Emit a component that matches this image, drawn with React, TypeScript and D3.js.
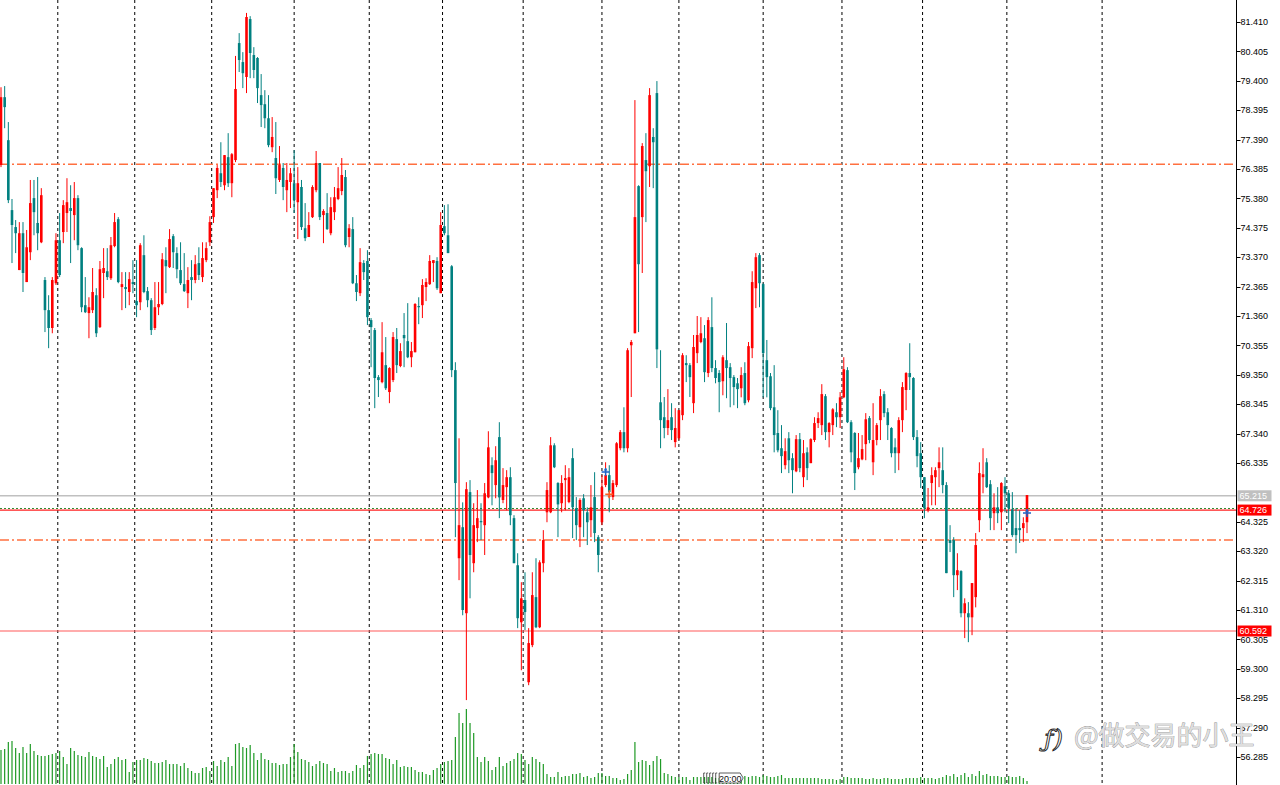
import React from 'react';
import * as d3 from 'd3';

// ---- data ----
// [open, high, low, close]
const candles: [number, number, number, number][] = [
  [76.52,79.18,76.45,78.84],[78.84,79.22,77.78,78.50],[77.37,77.99,75.22,75.32],[74.98,75.36,73.17,74.47],[74.40,74.64,73.51,74.19],
  [72.93,74.57,72.93,74.19],[74.19,74.57,72.18,72.83],[72.52,74.30,72.52,73.71],[73.54,76.01,73.27,75.22],[75.39,76.01,74.12,74.91],
  [74.54,76.11,73.61,74.19],[73.88,75.73,73.85,75.49],[72.59,72.69,70.81,71.56],[71.56,72.07,70.26,70.95],[70.95,72.69,70.77,72.59],
  [72.48,74.19,72.42,73.95],[73.95,74.88,72.69,72.76],[74.23,75.32,73.85,75.15],[74.88,76.07,74.23,75.25],[75.05,75.83,73.17,74.95],
  [74.81,75.94,73.95,75.39],[75.39,75.49,73.61,73.78],[73.68,73.71,71.49,71.66],[71.73,72.69,71.46,71.49],[71.46,72.00,70.60,71.66],
  [71.56,73.00,71.46,72.18],[72.07,72.31,70.64,70.77],[70.98,73.24,70.95,72.96],[72.83,73.68,71.97,73.00],[72.89,73.68,72.59,72.69],
  [72.65,74.06,72.59,73.78],[73.75,74.88,73.71,74.57],[74.67,74.74,72.48,72.52],[72.35,72.86,71.56,72.45],[72.35,72.86,71.63,72.28],
  [72.18,72.86,71.73,72.62],[72.52,73.27,72.14,72.45],[71.87,73.27,71.32,71.73],[71.83,73.85,71.56,73.78],[73.44,74.12,72.14,72.18],
  [72.21,72.35,71.66,71.90],[71.90,71.97,70.71,70.88],[70.95,72.52,70.88,71.66],[71.66,72.52,71.39,71.77],[71.77,73.51,71.73,73.30],
  [73.27,73.71,72.14,73.06],[73.03,74.33,73.00,73.99],[74.09,74.16,73.00,73.54],[73.51,73.71,72.65,72.96],[72.93,73.88,72.42,72.48],
  [72.45,73.51,72.18,72.21],[72.14,73.03,71.63,72.59],[72.69,73.27,71.90,72.59],[72.59,73.44,72.48,73.13],[73.17,73.71,72.59,72.76],
  [72.69,73.88,72.52,73.34],[73.27,73.88,73.20,73.68],[73.88,74.77,73.75,74.57],[74.74,75.73,74.54,75.73],[75.66,76.52,75.39,76.42],
  [76.24,77.30,75.77,75.94],[75.83,76.86,75.66,76.86],[76.79,77.61,75.77,75.90],[75.90,76.93,75.42,76.89],[76.69,80.25,76.62,79.12],
  [80.69,81.03,79.70,80.11],[80.04,80.38,79.15,79.66],[79.53,81.72,78.98,81.58],[81.51,81.61,79.49,80.35],[80.28,80.55,79.49,79.77],
  [80.18,80.21,78.64,79.15],[78.91,79.63,77.82,78.57],[78.60,79.08,77.78,78.12],[78.12,78.91,77.13,77.20],[77.13,78.16,76.96,77.48],
  [76.76,77.99,75.53,76.07],[76.01,77.17,75.94,76.52],[76.42,76.59,75.32,75.77],[75.66,76.59,74.91,76.01],[75.94,76.42,75.05,76.24],
  [75.90,77.03,74.88,75.32],[75.25,76.45,73.99,75.90],[75.77,76.01,74.30,74.40],[74.36,75.22,73.92,74.02],[74.06,74.91,74.06,74.47],
  [74.74,75.83,74.71,75.77],[75.66,77.00,75.59,76.59],[76.59,76.59,74.64,74.74],[74.81,75.01,73.85,74.95],[74.88,75.56,74.30,74.33],
  [74.19,75.42,74.12,75.08],[74.91,75.77,74.64,75.42],[75.36,76.45,75.32,75.73],[75.63,76.76,75.49,76.18],[76.11,76.35,73.71,73.78],
  [74.06,74.50,73.71,74.36],[74.33,74.74,72.45,72.48],[72.48,72.76,71.87,72.18],[72.14,73.68,72.04,73.20],[73.17,73.27,72.59,72.86],
  [73.24,73.61,71.05,71.32],[71.22,71.29,69.61,70.98],[70.88,70.95,68.21,69.24],[69.27,69.34,68.59,69.17],[69.10,71.15,69.06,70.12],
  [69.68,70.64,68.83,68.89],[68.76,69.61,68.38,69.58],[69.17,70.81,69.10,70.64],[70.57,70.95,69.41,69.68],[69.65,70.43,69.61,70.16],
  [70.71,71.46,69.61,70.60],[70.50,71.80,69.92,69.95],[69.95,70.47,69.61,70.16],[70.12,71.80,70.12,71.77],[71.70,72.00,71.08,71.66],
  [71.73,72.62,71.29,72.42],[72.35,72.65,71.87,72.52],[72.45,73.44,72.42,73.24],[73.17,73.27,72.52,73.27],[73.24,73.37,72.25,72.31],
  [72.14,74.91,72.14,74.47],[74.43,75.15,74.12,74.19],[74.12,75.18,73.51,73.51],[73.06,73.10,69.27,69.51],[69.51,69.78,63.80,65.65],
  [63.08,67.18,62.33,64.21],[64.14,64.99,61.13,61.31],[61.20,65.68,58.23,65.44],[65.34,65.75,61.71,63.19],[62.91,64.96,62.60,64.21],
  [64.11,65.41,63.63,64.45],[64.35,64.96,63.70,64.31],[64.21,65.65,63.19,65.30],[65.16,67.42,65.13,66.87],[66.26,66.53,64.89,65.99],
  [65.58,66.91,65.13,66.43],[67.22,67.73,64.45,65.16],[65.07,66.16,64.96,65.58],[65.51,66.09,64.72,65.85],[65.85,66.19,64.21,64.55],
  [64.45,64.55,62.91,62.91],[62.84,63.25,60.69,61.03],[60.89,62.26,59.25,61.71],[61.65,62.60,60.62,61.24],[58.84,60.69,58.74,60.18],
  [60.11,62.60,60.04,61.82],[61.75,63.08,60.69,60.72],[60.72,63.01,60.69,62.94],[62.91,64.04,62.60,63.70],[64.65,65.68,64.31,65.41],
  [64.65,67.22,64.62,66.94],[66.94,67.01,66.16,66.19],[65.65,65.68,63.80,64.92],[64.96,65.92,64.65,65.65],[65.75,66.26,64.72,65.82],
  [65.00,66.16,64.96,65.85],[66.50,66.84,63.77,64.82],[64.79,65.17,63.70,64.21],[64.14,65.13,63.46,65.07],[65.13,65.27,63.80,64.72],
  [64.65,64.82,63.53,64.31],[64.38,65.58,63.80,64.82],[65.17,66.02,63.63,63.94],[63.80,63.87,62.60,63.19],[64.31,65.92,64.21,65.51],
  [65.58,66.36,65.51,65.92],[65.92,66.26,64.65,65.34],[65.17,65.75,65.07,65.65],[65.58,67.05,65.51,67.01],[66.84,67.46,66.77,67.39],
  [67.39,68.24,66.70,66.84],[66.84,70.26,66.70,70.19],[70.36,70.54,68.59,70.47],[70.77,78.74,70.77,74.74],[75.80,75.83,70.81,73.13],
  [74.74,77.27,72.83,77.17],[76.69,77.61,74.57,76.31],[76.48,79.15,75.77,78.91],[77.48,77.78,75.73,77.30],[78.98,79.39,69.58,70.22],
  [68.41,70.19,66.84,67.80],[67.90,68.59,67.18,67.53],[67.53,68.86,67.29,67.80],[67.90,68.38,67.12,67.46],[67.05,68.21,66.87,67.53],
  [67.18,68.14,67.12,68.14],[67.97,70.09,67.80,70.02],[69.75,70.02,69.10,69.68],[69.68,69.75,68.59,69.27],[68.38,70.71,68.04,70.30],
  [70.09,71.36,69.75,70.71],[70.47,71.32,70.43,70.77],[70.60,71.05,69.10,69.44],[69.41,71.32,69.27,71.22],[70.98,72.00,69.44,69.58],
  [69.58,69.85,69.06,69.24],[69.41,69.51,68.07,69.10],[69.13,70.02,68.65,69.95],[69.85,71.12,68.55,69.58],[69.61,69.75,68.24,69.24],
  [69.27,69.34,68.31,68.93],[69.06,69.24,68.21,68.86],[68.89,69.61,68.58,69.34],[69.41,69.78,68.31,68.38],[68.48,70.47,68.41,70.33],
  [70.26,72.89,69.92,72.52],[72.31,73.51,71.63,73.37],[73.44,73.51,71.66,72.48],[72.45,72.48,68.58,70.09],[69.85,70.54,68.58,69.27],
  [69.30,69.41,68.14,68.21],[68.24,69.68,66.70,67.29],[67.36,68.14,66.70,66.77],[66.84,67.63,65.99,66.57],[66.26,67.18,66.12,66.74],
  [67.18,67.39,65.99,66.43],[66.50,66.67,65.30,66.09],[66.05,67.29,66.02,67.15],[67.15,67.36,66.02,66.16],[65.85,67.12,65.51,66.67],
  [66.70,66.87,65.75,66.16],[66.33,67.18,66.33,67.15],[67.12,67.90,67.05,67.70],[67.70,68.07,67.53,67.87],[67.63,69.03,67.29,68.69],
  [68.62,68.69,67.12,67.39],[67.39,67.73,66.87,67.70],[67.63,68.21,67.29,68.17],[68.07,68.38,67.56,67.90],[67.90,68.76,67.53,68.58],
  [68.58,69.95,68.55,69.54],[69.51,69.61,67.70,67.73],[67.73,67.80,66.36,66.70],[67.36,67.39,65.41,65.99],[66.19,67.36,66.12,66.50],
  [66.46,67.29,66.43,66.81],[66.98,68.04,66.43,67.83],[67.87,67.94,67.01,67.12],[66.36,68.38,65.92,67.12],[67.12,67.70,66.94,67.63],
  [67.80,68.86,67.12,68.62],[68.69,68.79,67.90,68.04],[68.07,68.21,67.12,67.63],[67.53,67.56,66.53,66.67],[66.87,67.18,65.99,66.67],
  [66.67,67.90,66.09,67.80],[67.80,69.10,67.39,68.93],[68.83,69.44,68.14,69.41],[69.41,70.43,68.83,69.27],[69.24,69.27,67.12,67.22],
  [67.22,67.46,66.19,66.57],[66.67,67.05,65.48,65.85],[65.85,65.85,64.45,64.79],[64.72,65.48,64.65,64.82],[65.65,66.19,64.89,65.92],
  [65.85,66.19,64.89,66.09],[66.16,66.87,65.51,66.36],[66.09,66.87,65.30,65.58],[65.58,65.68,62.57,62.57],[63.70,64.21,63.29,63.60],
  [63.70,63.80,61.75,62.50],[62.50,63.25,61.99,62.67],[62.64,62.67,61.06,61.20],[61.20,61.71,60.35,61.54],[61.20,61.58,60.21,61.06],
  [61.06,62.23,60.45,62.23],[61.75,63.94,61.40,63.53],[64.38,66.36,63.97,65.99],[65.85,66.84,65.30,65.95],[66.36,66.50,65.48,65.51],
  [65.61,65.75,64.04,64.45],[64.62,65.30,64.04,64.82],[64.82,65.51,64.28,64.62],[64.65,65.68,64.04,65.65],[65.54,65.85,64.65,65.30],
  [65.30,65.41,64.28,64.79],[64.75,65.34,63.80,63.87],[64.11,64.79,63.25,63.87],[64.11,64.72,63.60,64.04],[64.11,64.48,63.63,64.28],
  [64.31,65.24,63.94,65.24],
];

const volumes: number[] = [
  34,35,42,43,36,31,37,31,40,33,29,
  28,28,29,30,31,33,27,20,36,33,
  29,28,27,32,28,27,25,28,17,20,
  25,27,24,25,12,22,24,24,26,25,
  23,21,21,22,24,20,20,20,18,21,
  16,13,11,11,16,17,13,23,18,24,
  22,27,18,40,41,37,36,39,31,24,
  31,25,24,21,21,19,20,20,27,40,
  32,25,24,22,18,20,23,21,20,13,
  16,12,13,13,11,13,19,16,19,28,
  30,31,30,30,26,25,20,24,17,18,
  17,17,14,12,12,10,9,14,16,20,
  22,23,24,47,71,61,75,61,51,27,
  22,27,23,14,17,27,18,21,23,25,
  31,30,24,20,27,25,22,20,10,7,
  7,12,7,8,8,10,10,11,7,8,
  6,7,11,11,8,8,6,6,4,5,
  10,14,42,22,
  24,23,19,23,28,25,11,10,8,7,
  7,7,7,4,7,7,7,7,7,7,
  6,6,6,6,6,6,6,6,8,7,
  8,8,7,9,8,7,7,8,9,6,
  6,6,6,6,6,6,6,6,6,5,
  5,5,5,4,5,7,7,6,6,6,
  6,5,5,6,5,5,6,6,5,5,
  5,5,6,6,6,6,7,6,6,6,
  5,6,7,9,8,10,7,9,11,7,
  10,8,13,9,10,8,8,8,7,7,
  8,7,7,8,6,3,
];

const priceTicks: number[] = [81.41, 80.405, 79.4, 78.395, 77.39, 76.385, 75.38, 74.375, 73.37, 72.365, 71.36, 70.355,
  69.35, 68.345, 67.34, 66.335, 64.325, 63.32, 62.315, 61.31, 60.305, 59.3, 58.295, 57.29, 56.285];

// bar indices where a new session starts (period separators)
const sessionStarts: number[] = [16, 37, 58, 80.5, 101, 121, 143, 164.5, 185.5, 208.5, 230, 252, 275, 301];

const orangeLevels: number[] = [76.55, 63.70];
const grayLevel = 65.215;
const bidLevel = 64.726;
const askLevel = 64.78;
const supportLevel = 60.592;

// trade arrows: [bar index, price]
const buyMarks: [number, number][] = [[165, 66.03], [280, 64.63]];
const sellMarks: [number, number][] = [[166, 65.27]];

const timeLabel = '20:00';
const timeLabelBar = 196;
const watermark = '@做交易的小王';

const W = 1280;
const H = 785;
const AXIS_X = 1236.5;

export default function App() {
  const x = d3.scaleLinear().domain([0, candles.length - 1]).range([1, 1027]);
  const y = d3.scaleLinear().domain([56.285, 81.41]).range([757, 22]);
  const vy = d3.scaleLinear().domain([0, 80]).range([784, 704]);
  const bodyW = 2.6;
  const UP = '#ff0000';
  const DOWN = '#008080';
  const fontAxis = '"Liberation Sans", Arial, sans-serif';

  const labelBox = (p: number, fill: string, key: string) => (
    <g key={key}>
      <rect x={AXIS_X + 1} y={y(p) - 5.5} width={34} height={11} fill={fill} />
      <text x={AXIS_X + 3} y={y(p)} dy="0.35em" fontSize={9} fontFamily={fontAxis} fill="#ffffff">{p.toFixed(3)}</text>
    </g>
  );

  const tx = x(timeLabelBar);

  return (
    <svg width={W} height={H} style={{ position: 'absolute', left: 0, top: 0, background: '#fff' }}>
      <rect x={0} y={0} width={W} height={H} fill="#ffffff" />

      {/* period separators */}
      {sessionStarts.map((s, i) => (
        <line key={'sep' + i} x1={x(s - 0.5)} x2={x(s - 0.5)} y1={0} y2={H} stroke="#000" strokeWidth={1} strokeDasharray="3,3" />
      ))}

      {/* volumes */}
      {volumes.map((v, i) => (
        <rect key={'v' + i} x={x(i) - 0.6} y={vy(v)} width={1.2} height={vy(0) - vy(v)} fill="#1f9a26" />
      ))}

      {/* level lines */}
      {orangeLevels.map((p, i) => (
        <line key={'ol' + i} x1={0} x2={AXIS_X} y1={y(p)} y2={y(p)} stroke="#ff7040" strokeWidth={1.5} strokeDasharray="9,3,2,3" />
      ))}
      <line x1={0} x2={AXIS_X} y1={y(grayLevel)} y2={y(grayLevel)} stroke="#c0c0c0" strokeWidth={1.5} />
      <line x1={0} x2={AXIS_X} y1={y(supportLevel)} y2={y(supportLevel)} stroke="#ff5a5a" strokeWidth={1.2} />
      <line x1={0} x2={AXIS_X} y1={y(bidLevel)} y2={y(bidLevel)} stroke="#ff2020" strokeWidth={1.2} />
      <line x1={0} x2={AXIS_X} y1={y(askLevel)} y2={y(askLevel)} stroke="#2e8b2e" strokeWidth={1} strokeDasharray="2,2" />

      {/* candles */}
      {candles.map(([o, h, l, c], i) => {
        const cx = x(i);
        const up = c >= o;
        const col = up ? UP : DOWN;
        const top = y(Math.max(o, c));
        const bot = y(Math.min(o, c));
        const hi = y(Math.max(h, o, c));
        const lo = y(Math.min(l, o, c));
        return (
          <g key={'c' + i}>
            <line x1={cx} x2={cx} y1={hi} y2={lo} stroke={col} strokeWidth={1} />
            <rect x={cx - bodyW / 2} y={top} width={bodyW} height={Math.max(1, bot - top)} fill={col} />
          </g>
        );
      })}

      {/* trade marks */}
      {buyMarks.map(([i, p], k) => (
        <g key={'b' + k} transform={`translate(${x(i)},${y(p)})`}>
          <path d="M-4,0 L4,0 M0,-4 L0,4" stroke="#1c64c8" strokeWidth={1.5} />
          <path d="M-2,-1.5 L2,-1.5 L0,-4 Z" fill="#1c64c8" />
        </g>
      ))}
      {sellMarks.map(([i, p], k) => (
        <g key={'s' + k} transform={`translate(${x(i)},${y(p)})`}>
          <path d="M-4,0 L4,0 M0,-4 L0,4" stroke="#ff5a1e" strokeWidth={1.5} />
          <path d="M-2,1.5 L2,1.5 L0,4 Z" fill="#ff5a1e" />
        </g>
      ))}

      {/* time scale marker */}
      <g>
        {[0, 1, 2, 3, 4].map((k) => (
          <path key={'br' + k} d={`M${tx - 14 + k * 3},773 L${tx - 15.5 + k * 3},773 L${tx - 15.5 + k * 3},783 L${tx - 14 + k * 3},783`} fill="none" stroke="#333" strokeWidth={0.8} />
        ))}
        <path d={`M${tx},773 L${tx + 21},773 L${tx + 24},778 L${tx + 21},783 L${tx},783 Z`} fill="#fff" stroke="#333" strokeWidth={0.8} />
        <text x={tx + 11} y={778.5} dy="0.35em" textAnchor="middle" fontSize={9} fontFamily={fontAxis} fill="#111">{timeLabel}</text>
      </g>

      {/* price axis */}
      <line x1={AXIS_X} x2={AXIS_X} y1={0} y2={H} stroke="#000" strokeWidth={1} />
      {priceTicks.map((p, i) => (
        <g key={'t' + i}>
          <line x1={AXIS_X} x2={AXIS_X + 4} y1={Math.round(y(p)) + 0.5} y2={Math.round(y(p)) + 0.5} stroke="#000" strokeWidth={1} />
          <text x={AXIS_X + 4} y={y(p)} dy="0.35em" fontSize={9} fontFamily={fontAxis} fill="#000">{p.toFixed(3)}</text>
        </g>
      ))}
      {labelBox(grayLevel, '#c0c0c0', 'lg')}
      {labelBox(bidLevel, '#ff0000', 'lb')}
      {labelBox(supportLevel, '#ff0000', 'ls')}

      {/* watermark */}
      <text x={1044} y={747} fontSize={25} fontStyle="italic" fontFamily='"DejaVu Serif", serif' fill="#ffffff" stroke="#222" strokeWidth={0.9}>ƒ)</text>
      <text x={1074} y={745} fontSize={26} fontFamily='"Noto Sans CJK SC", sans-serif' fill="#dedede" stroke="#8a8a8a" strokeWidth={0.7} style={{ paintOrder: 'stroke' }}>{watermark}</text>
    </svg>
  );
}
